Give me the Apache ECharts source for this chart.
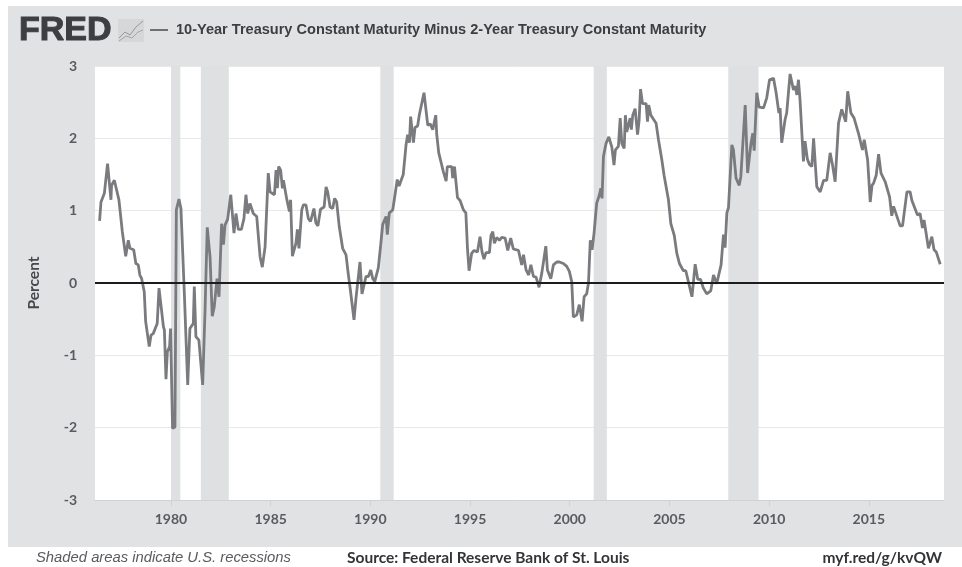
<!DOCTYPE html>
<html>
<head>
<meta charset="utf-8">
<title>FRED 10Y minus 2Y</title>
<script src="https://cdn.jsdelivr.net/npm/echarts@6/dist/echarts.min.js"></script>
<style>
  html, body { margin: 0; padding: 0; background: #fff; }
  #chart { width: 962px; height: 567px; }
</style>
</head>
<body>
<div id="chart"></div>
<script>
const seriesName = '10-Year Treasury Constant Maturity Minus 2-Year Treasury Constant Maturity'
const yTicks = [-3, -2, -1, 0, 1, 2, 3]
const xTicks = [1980, 1985, 1990, 1995, 2000, 2005, 2010, 2015]

// recession start / end, decimal years
const recessionStart = [1980.0, 1981.5, 1990.5, 2001.2, 2007.95]
const recessionEnd = [1980.47, 1982.9, 1991.17, 2001.86, 2009.47]

// decimal year + percent
const spreadYears = [
  1976.42, 1976.49, 1976.66, 1976.82, 1976.99, 1977.02, 1977.16, 1977.39, 1977.56, 1977.73,
  1977.86, 1977.94, 1978.13, 1978.24, 1978.36, 1978.44, 1978.53, 1978.66, 1978.73, 1978.91,
  1979.0, 1979.11, 1979.31, 1979.4, 1979.62, 1979.67, 1979.75, 1979.82, 1979.93, 1979.98,
  1980.08, 1980.2, 1980.27, 1980.4, 1980.5, 1980.67, 1980.84, 1980.95, 1981.12, 1981.17,
  1981.25, 1981.4, 1981.59, 1981.71, 1981.82, 1981.96, 1982.07, 1982.17, 1982.31, 1982.41,
  1982.54, 1982.63, 1982.71, 1982.84, 1983.0, 1983.16, 1983.26, 1983.38, 1983.53, 1983.66,
  1983.76, 1983.85, 1983.96, 1984.13, 1984.3, 1984.47, 1984.58, 1984.72, 1984.88, 1984.97,
  1985.19, 1985.27, 1985.34, 1985.4, 1985.5, 1985.59, 1985.64, 1985.8, 1985.94, 1986.0,
  1986.09, 1986.27, 1986.34, 1986.42, 1986.56, 1986.64, 1986.77, 1986.89, 1987.0, 1987.1,
  1987.17, 1987.27, 1987.37, 1987.5, 1987.68, 1987.78, 1987.86, 1987.98, 1988.11, 1988.21,
  1988.31, 1988.44, 1988.61, 1988.78, 1988.89, 1989.0, 1989.18, 1989.28, 1989.38, 1989.48,
  1989.58, 1989.68, 1989.78, 1989.9, 1990.02, 1990.12, 1990.22, 1990.4, 1990.52, 1990.62,
  1990.72, 1990.79, 1990.85, 1990.95, 1991.12, 1991.2, 1991.35, 1991.44, 1991.65, 1991.79,
  1991.87, 1991.96, 1992.02, 1992.16, 1992.24, 1992.37, 1992.46, 1992.69, 1992.88, 1993.0,
  1993.13, 1993.28, 1993.33, 1993.43, 1993.66, 1993.8, 1993.86, 1994.08, 1994.13, 1994.22,
  1994.37, 1994.5, 1994.67, 1994.79, 1994.87, 1994.95, 1995.08, 1995.2, 1995.37, 1995.5,
  1995.6, 1995.7, 1995.8, 1995.97, 1996.05, 1996.14, 1996.22, 1996.34, 1996.47, 1996.59,
  1996.76, 1996.89, 1997.04, 1997.17, 1997.43, 1997.59, 1997.68, 1997.81, 1997.94, 1998.05,
  1998.18, 1998.31, 1998.46, 1998.6, 1998.68, 1998.8, 1998.88, 1999.05, 1999.18, 1999.35,
  1999.48, 1999.68, 1999.85, 1999.98, 2000.1, 2000.18, 2000.35, 2000.48, 2000.62, 2000.72,
  2000.85, 2000.94, 2001.03, 2001.12, 2001.22, 2001.35, 2001.49, 2001.56, 2001.62, 2001.69,
  2001.82, 2001.96, 2002.11, 2002.22, 2002.29, 2002.44, 2002.53, 2002.61, 2002.73, 2002.79,
  2002.86, 2003.03, 2003.09, 2003.16, 2003.28, 2003.4, 2003.48, 2003.55, 2003.65, 2003.83,
  2003.9, 2003.96, 2004.07, 2004.16, 2004.33, 2004.45, 2004.62, 2004.73, 2004.83, 2004.95,
  2005.07, 2005.24, 2005.37, 2005.5, 2005.7, 2005.82, 2005.95, 2006.13, 2006.29, 2006.42,
  2006.56, 2006.7, 2006.87, 2007.07, 2007.21, 2007.37, 2007.59, 2007.71, 2007.79, 2007.88,
  2007.96, 2008.13, 2008.21, 2008.34, 2008.5, 2008.58, 2008.67, 2008.8, 2008.92, 2009.01,
  2009.08, 2009.18, 2009.25, 2009.38, 2009.5, 2009.58, 2009.72, 2009.88, 2010.02, 2010.22,
  2010.35, 2010.49, 2010.55, 2010.63, 2010.8, 2010.88, 2011.05, 2011.22, 2011.32, 2011.39,
  2011.47, 2011.55, 2011.72, 2011.8, 2011.92, 2012.02, 2012.14, 2012.23, 2012.39, 2012.56,
  2012.73, 2012.89, 2013.06, 2013.18, 2013.31, 2013.48, 2013.64, 2013.84, 2013.94, 2014.03,
  2014.1, 2014.26, 2014.48, 2014.57, 2014.68, 2014.77, 2014.94, 2015.07, 2015.16, 2015.24,
  2015.37, 2015.49, 2015.61, 2015.82, 2016.04, 2016.15, 2016.24, 2016.32, 2016.57, 2016.69,
  2016.91, 2017.07, 2017.16, 2017.24, 2017.44, 2017.57, 2017.69, 2017.77, 2017.99, 2018.16,
  2018.27, 2018.38, 2018.58
]
const spreadValues = [
  0.86, 1.12, 1.24, 1.65, 1.15, 1.35, 1.42, 1.15, 0.71, 0.37,
  0.59, 0.48, 0.46, 0.27, 0.25, 0.11, 0.06, -0.12, -0.53, -0.88,
  -0.72, -0.7, -0.56, -0.07, -0.6, -0.65, -1.33, -0.95, -0.88, -0.63,
  -2.01, -1.99, 1.01, 1.16, 1.03, -0.14, -1.41, -0.63, -0.56, -0.05,
  -0.74, -0.79, -1.41, -0.37, 0.77, 0.36, -0.46, -0.33, 0.06, -0.19,
  0.82, 0.53, 0.8, 0.88, 1.22, 0.69, 0.96, 0.74, 0.74, 0.89,
  1.22, 0.96, 1.1, 0.96, 0.92, 0.36, 0.22, 0.5, 1.52, 1.26,
  1.22, 1.56, 1.31, 1.61, 1.56, 1.31, 1.42, 1.17, 0.99, 1.15,
  0.37, 0.55, 0.74, 0.48, 1.01, 1.08, 1.08, 0.89, 0.85, 0.85,
  1.03, 0.83, 0.79, 1.02, 1.05, 1.33, 1.26, 1.05, 1.03, 1.17,
  1.12, 0.78, 0.48, 0.39, 0.13, -0.1, -0.51, -0.21, -0.21, 0.29,
  -0.15, -0.15, 0.09, 0.09, 0.18, 0.06, 0.02, 0.21, 0.53, 0.81,
  0.81, 0.92, 0.67, 0.97, 1.01, 1.15, 1.43, 1.34, 1.5, 1.91,
  2.05, 1.94, 2.3, 1.94, 2.15, 2.17, 2.33, 2.63, 2.18, 2.2,
  2.12, 2.32, 2.05, 1.8, 1.54, 1.41, 1.61, 1.61, 1.45, 1.61,
  1.18, 1.14, 1.01, 0.97, 0.48, 0.17, 0.41, 0.45, 0.43, 0.64,
  0.43, 0.33, 0.42, 0.42, 0.66, 0.71, 0.55, 0.63, 0.59, 0.63,
  0.62, 0.45, 0.62, 0.47, 0.45, 0.25, 0.39, 0.18, 0.11, 0.25,
  0.09, 0.08, -0.06, 0.14, 0.13, 0.51, 0.18, 0.06, 0.25, 0.29,
  0.29, 0.27, 0.23, 0.16, 0.02, -0.47, -0.44, -0.3, -0.53, -0.19,
  -0.15, 0, 0.59, 0.46, 0.69, 1.1, 1.22, 1.31, 1.17, 1.75,
  1.93, 2.02, 1.88, 1.63, 1.84, 1.89, 2.28, 1.93, 1.86, 2.32,
  2.09, 2.28, 2.12, 2.32, 2.41, 2.05, 2.25, 2.68, 2.48, 2.48,
  2.23, 2.46, 2.32, 2.32, 2.21, 1.98, 1.7, 1.49, 1.47, 1.15,
  0.82, 0.66, 0.41, 0.27, 0.17, 0.17, 0.02, -0.19, 0.26, 0.05,
  0.05, -0.07, -0.15, -0.11, 0.11, -0.01, 0.25, 0.67, 0.49, 0.97,
  1.04, 1.91, 1.84, 1.45, 1.35, 1.47, 1.49, 2.46, 1.52, 1.51,
  1.91, 2.07, 1.83, 2.63, 2.43, 2.44, 2.42, 2.56, 2.81, 2.83,
  2.63, 2.35, 2.42, 1.94, 2.26, 2.35, 2.89, 2.67, 2.72, 2.6,
  2.81, 2.53, 1.68, 1.96, 1.71, 1.64, 1.61, 2.0, 1.33, 1.26,
  1.42, 1.42, 1.8, 1.63, 1.4, 2.21, 2.4, 2.23, 2.65, 2.65,
  2.35, 2.28, 2.07, 2.05, 1.84, 1.98, 1.7, 1.12, 1.35, 1.38,
  1.49, 1.78, 1.52, 1.4, 1.19, 0.93, 1.06, 1.06, 0.79, 0.79,
  1.26, 1.26, 1.14, 1.12, 0.94, 0.96, 0.76, 0.87, 0.48, 0.64,
  0.46, 0.43, 0.26
]

const panelColor = '#e1e2e4'
const bandColor = '#dfe0e2'
const textColor = '#47484b'

const chart = echarts.init(document.getElementById('chart'))

const label = (x, y, text, font, fill, align) => ({
  type: 'text',
  x,
  y,
  style: { text, font, fill, align: align || 'left', verticalAlign: 'middle' }
})

chart.setOption({
  animation: false,
  backgroundColor: '#fff',
  textStyle: { fontFamily: 'Lato' },
  grid: {
    left: 95,
    top: 66,
    width: 849,
    height: 434,
    show: true,
    backgroundColor: '#fff',
    borderWidth: 0
  },
  xAxis: {
    type: 'value',
    min: 1976.19,
    max: 2018.77,
    splitLine: { show: false },
    axisLine: { onZero: false, lineStyle: { color: '#d0d1d3', width: 1 } },
    axisTick: { length: 6, customValues: xTicks, lineStyle: { color: '#d0d1d3' } },
    axisLabel: {
      customValues: xTicks,
      formatter: v => String(v),
      margin: 12,
      fontSize: 14,
      fontWeight: 'bold',
      color: '#5a5b5e'
    }
  },
  yAxis: {
    type: 'value',
    min: -3,
    max: 3,
    interval: 1,
    axisLine: { show: false },
    axisTick: { show: false },
    splitLine: { lineStyle: { color: '#e8e8e9', width: 1 } },
    axisLabel: {
      customValues: yTicks,
      margin: 18,
      fontSize: 14,
      fontWeight: 'bold',
      color: '#5a5b5e'
    }
  },
  graphic: [
    { type: 'rect', z: -10, shape: { x: 8, y: 6, width: 954, height: 541 }, style: { fill: panelColor } },
    { type: 'text', x: 19, y: 31, scaleX: 1.03, style: { text: 'FRED', font: '900 33px "Liberation Sans"', fill: '#3d3e41', stroke: '#3d3e41', lineWidth: 1, verticalAlign: 'middle' } },
    { type: 'rect', shape: { x: 118, y: 19, width: 26, height: 23 }, style: { fill: '#d6d7d9' } },
    { type: 'polyline', shape: { points: [[119, 38], [125, 32], [130, 35], [136, 27], [143, 21]] }, style: { stroke: '#97989b', lineWidth: 1, fill: null } },
    { type: 'polyline', shape: { points: [[119, 41], [126, 36], [132, 38], [138, 32], [143, 30]] }, style: { stroke: '#a5a6a9', lineWidth: 1, fill: null } },
    { type: 'line', shape: { x1: 150, y1: 30, x2: 168, y2: 30 }, style: { stroke: '#6f7073', lineWidth: 2 } },
    label(176, 30, seriesName, 'bold 14.55px "Liberation Sans"', '#3d3e41'),
    { type: 'text', x: 34, y: 283, rotation: Math.PI / 2, style: { text: 'Percent', font: 'bold 15.5px Lato', fill: textColor, align: 'center', verticalAlign: 'middle' } },
    label(36, 558, 'Shaded areas indicate U.S. recessions', 'italic 14.8px "Liberation Sans"', '#5a5b5e'),
    label(347, 558, 'Source: Federal Reserve Bank of St. Louis', 'bold 15.5px Lato', '#333437'),
    label(942, 558, 'myf.red/g/kvQW', 'bold 15.5px Lato', '#333437', 'right')
  ],
  series: [
    {
      name: seriesName,
      type: 'line',
      data: spreadYears.map((y, i) => [y, spreadValues[i]]),
      showSymbol: false,
      lineStyle: { color: '#7a7b7e', width: 2.8 },
      markArea: {
        silent: true,
        itemStyle: { color: bandColor },
        data: recessionStart.map((s, i) => [{ xAxis: s }, { xAxis: recessionEnd[i] }])
      },
      markLine: {
        silent: true,
        symbol: 'none',
        label: { show: false },
        lineStyle: { color: '#1c1c1e', width: 2, type: 'solid' },
        data: [{ yAxis: 0 }]
      }
    }
  ]
})
</script>
</body>
</html>
